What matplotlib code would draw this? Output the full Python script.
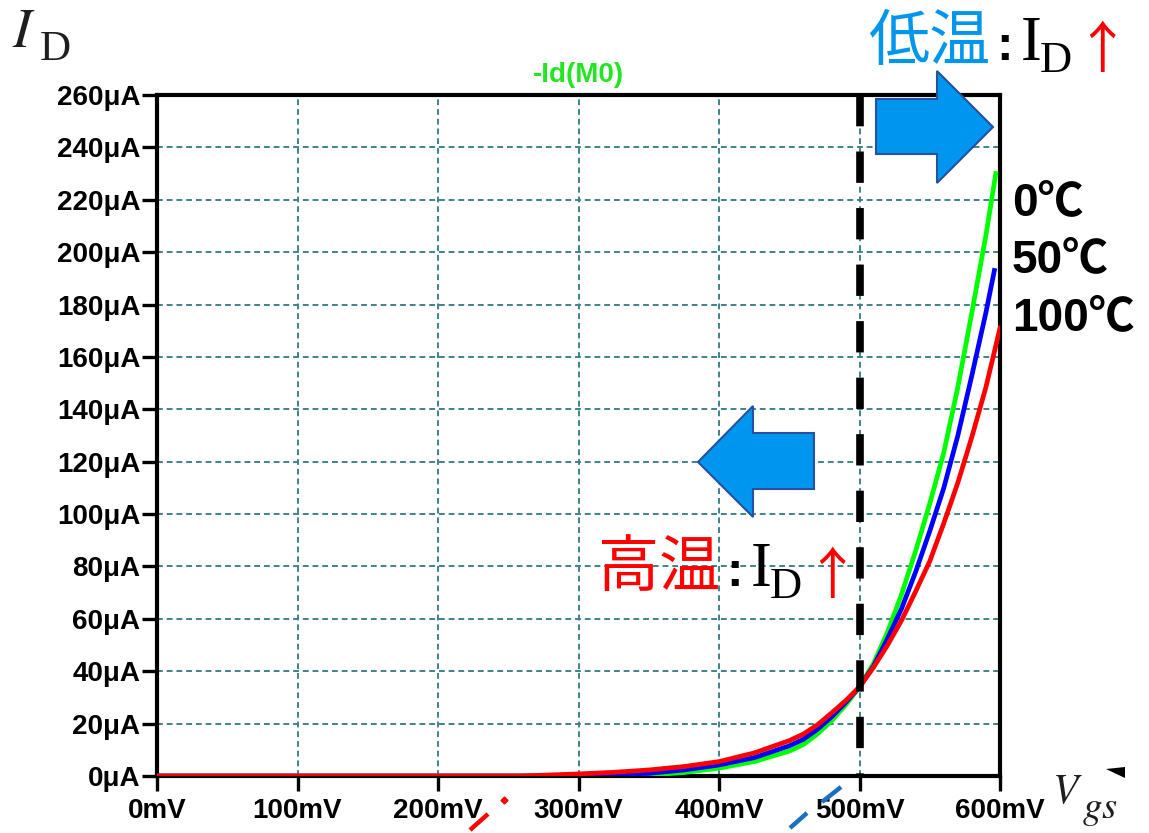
import matplotlib
matplotlib.use("Agg")
import matplotlib.pyplot as plt
from matplotlib.patches import Polygon
from matplotlib.lines import Line2D

plt.rcParams['font.family'] = ['Liberation Sans', 'Noto Sans CJK JP', 'DejaVu Sans']
plt.rcParams['mathtext.fontset'] = 'stix'

# ---- data: drain current -Id(M0) (μA) vs gate voltage (mV) for three temperatures ----
vgs_0c = [0, 289, 300, 325, 350, 375, 400, 425, 450, 460, 470, 480, 490, 500,
          510, 520, 530, 540, 550, 560, 570, 580, 590, 597]
id_0c = [0, 0, 0.05, 0.1, 0.4, 1.3, 3, 5.5, 9.5, 12, 16, 21, 27, 34,
         43, 55, 69.5, 86, 104, 123.5, 148.5, 177, 206.5, 230]

vgs_50c = [0, 270, 300, 325, 350, 375, 400, 425, 450, 460, 470, 480, 490, 500,
           510, 520, 530, 540, 550, 560, 570, 580, 590, 596]
id_50c = [0, 0, 0.3, 0.6, 1, 2.3, 4.2, 7, 11.5, 14, 17.8, 22.5, 28, 34,
          42, 52.5, 64, 78, 93.5, 110, 130, 153, 177, 193]

vgs_100c = [0, 258, 275, 300, 325, 350, 375, 400, 425, 450, 460, 470, 480, 490, 500,
            510, 520, 530, 540, 550, 560, 570, 580, 590, 600]
id_100c = [0, 0, 0.3, 0.8, 1.4, 2.3, 3.6, 5.5, 8.8, 13.5, 16, 19.5, 24, 28.7, 34,
           41.5, 50, 59.5, 70.5, 82, 96.5, 112, 129.5, 148.5, 171]

temp_labels = ["0℃", "50℃", "100℃"]
x_ticks = [0, 100, 200, 300, 400, 500, 600]
y_ticks = list(range(0, 261, 20))
x_tick_labels = [f"{v}mV" for v in x_ticks]
y_tick_labels = [f"{v}μA" for v in y_ticks]
v_boundary = 500

W, H, DPI = 1149, 833, 100
fig = plt.figure(figsize=(W / DPI, H / DPI), dpi=DPI)


def fx(px):
    return px / W


def fy(py):
    return 1 - py / H


ax = fig.add_axes([fx(157), fy(776), (1000 - 157) / W, (776 - 95) / H])
ax.set_xlim(0, 600)
ax.set_ylim(0, 260)
ax.set_xticks(x_ticks)
ax.set_xticklabels(x_tick_labels)
ax.set_yticks(y_ticks)
ax.set_yticklabels(y_tick_labels)
for lab in ax.get_xticklabels() + ax.get_yticklabels():
    lab.set_fontweight('bold')
    lab.set_fontsize(20)
ax.tick_params(axis='both', direction='out', length=11, width=2.4, color='black')
ax.tick_params(axis='y', pad=1)
ax.tick_params(axis='x', pad=5)
for sp in ax.spines.values():
    sp.set_linewidth(3)
    sp.set_color('black')
ax.set_axisbelow(True)
ax.grid(True, color='#3f8389', linestyle=(0, (3, 2)), linewidth=1.4)

ax.plot(vgs_0c, id_0c, color='#00ff00', lw=3.4, zorder=3, solid_joinstyle='round')
ax.plot(vgs_50c, id_50c, color='#0000ff', lw=3.4, zorder=3, solid_joinstyle='round')
ax.plot(vgs_100c, id_100c, color='#ff0000', lw=3.4, zorder=3, solid_joinstyle='round')

# boundary between the low- and high-temperature regions
ax.plot([v_boundary, v_boundary], [260, 0], color='black', lw=5.5,
        linestyle=(0, (4.1, 3.3)), dash_capstyle='butt', zorder=4, clip_on=False)

fig.text(fx(578), fy(75), "-Id(M0)", ha='center', va='center', fontsize=20,
         fontweight='bold', color='#22e622')

# temperature labels beside the curve ends
for lab, base in zip(temp_labels, [215, 272, 330]):
    fig.text(fx(1012), fy(base), lab, ha='left', va='baseline', fontsize=33,
             fontweight='bold', color='black',
             family=['Liberation Sans', 'Noto Sans CJK JP'])

# axis names
fig.text(fx(12), fy(47), r"$I$", fontsize=40, color='#1e1e1e', ha='left', va='baseline')
fig.text(fx(40), fy(60), "D", fontsize=31, color='#1e1e1e', family='Liberation Serif',
         ha='left', va='baseline')
fig.text(fx(1052), fy(803), r"$V$", fontsize=30, color='#1e1e1e', ha='left', va='baseline')
fig.text(fx(1082), fy(818), r"$gs$", fontsize=28, color='#1e1e1e', ha='left', va='baseline')


def temp_note(x0, base, word, word_color):
    fig.text(fx(x0), fy(base), word, fontsize=44, color=word_color,
             family='Noto Sans CJK JP', ha='left', va='baseline')
    fig.text(fx(x0 + 128), fy(base), ":", fontsize=36, color='black',
             family='Liberation Sans', fontweight='bold', ha='left', va='baseline')
    fig.text(fx(x0 + 153), fy(base), "I", fontsize=45, color='black',
             family='Liberation Serif', ha='left', va='baseline')
    fig.text(fx(x0 + 172), fy(base + 12), "D", fontsize=32, color='black',
             family='Liberation Serif', ha='left', va='baseline')
    fig.text(fx(x0 + 206), fy(base + 8), "↑", fontsize=40, color='#ff0000',
             family='Noto Sans CJK JP', ha='left', va='baseline')


temp_note(868, 60, "低温", '#0096ee')
temp_note(598, 586, "高温", '#ff0000')

# block arrows
right_arrow = [(876, 99), (937, 99), (937, 71), (993, 127), (937, 183), (937, 154), (876, 154)]
left_arrow = [(814, 433), (753, 433), (753, 406), (698, 462), (753, 517), (753, 489), (814, 489)]
for pts in (right_arrow, left_arrow):
    fig.patches.append(Polygon([(fx(x), fy(y)) for x, y in pts], closed=True,
                               facecolor='#0096f0', edgecolor='#2452a0', lw=1.5,
                               transform=fig.transFigure, zorder=5))

# small stray strokes below the x axis
strokes = [([470, 488], [830, 814], '#ff0000'),
           ([790, 807], [828, 813], '#1a70c0'),
           ([822, 841], [802, 787], '#1a70c0')]
for xs, ys, c in strokes:
    fig.lines.append(Line2D([fx(x) for x in xs], [fy(y) for y in ys], color=c, lw=3.2,
                            solid_capstyle='butt', transform=fig.transFigure))
fig.lines.append(Line2D([fx(504)], [fy(800)], marker='D', markersize=3.5, color='#ff0000',
                        transform=fig.transFigure))
fig.patches.append(Polygon([(fx(1106), fy(769)), (fx(1125), fy(767)), (fx(1125), fy(778))],
                           closed=True, facecolor='black', edgecolor='none',
                           transform=fig.transFigure))

fig.savefig("out.png", dpi=DPI)
